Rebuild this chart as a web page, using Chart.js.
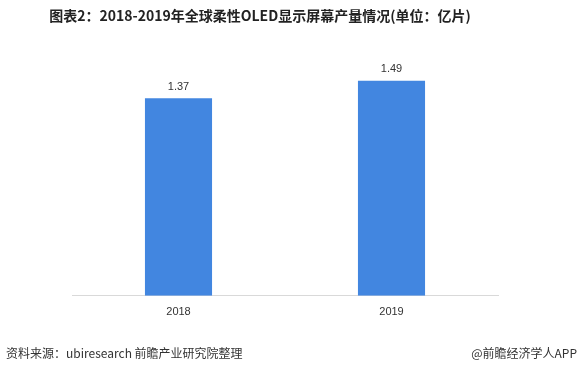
<!DOCTYPE html>
<html><head><meta charset="utf-8">
<script src="https://cdn.jsdelivr.net/npm/chart.js@4"></script>
<style>html,body{margin:0;padding:0;background:#fff;}</style>
</head><body>
<canvas id="c" width="580" height="370"></canvas>
<script>
const categories = ['2018', '2019'];
const production = [1.37, 1.49];
const titleText = '图表2：2018-2019年全球柔性OLED显示屏幕产量情况(单位：亿片)';
const sourceText = '资料来源：ubiresearch 前瞻产业研究院整理';
const brandText = '@前瞻经济学人APP';

const FONT = '"Noto Sans CJK SC","Microsoft YaHei",sans-serif';

const decor = {
  id: 'decor',
  afterDraw(chart) {
    const ctx = chart.ctx;
    ctx.save();
    ctx.fillStyle = '#222';
    ctx.font = 'bold 14px ' + FONT;
    ctx.textAlign = 'center';
    ctx.textBaseline = 'middle';
    ctx.fillText(titleText, 260, 16);
    ctx.font = '12px ' + FONT;
    ctx.fillStyle = '#333';
    ctx.textAlign = 'left';
    ctx.fillText(sourceText, 6, 353);
    ctx.textAlign = 'right';
    ctx.fillText(brandText, 577, 353);
    // value labels
    const meta = chart.getDatasetMeta(0);
    ctx.font = '11px "Liberation Sans",Arial,sans-serif';
    ctx.fillStyle = '#333';
    ctx.textAlign = 'center';
    ctx.textBaseline = 'bottom';
    meta.data.forEach((bar, i) => {
      ctx.fillText(production[i].toFixed(2), bar.x, bar.y - 6);
    });
    ctx.restore();
  }
};

new Chart(document.getElementById('c'), {
  type: 'bar',
  data: {
    labels: categories,
    datasets: [{
      data: production,
      backgroundColor: '#4286e0',
      borderWidth: 0,
      barPercentage: 1,
      categoryPercentage: 0.315
    }]
  },
  options: {
    responsive: false,
    animation: false,
    layout: { padding: { left: 72, right: 82, top: 65, bottom: 49 } },
    plugins: { legend: { display: false }, title: { display: false }, tooltip: { enabled: false } },
    scales: {
      x: {
        grid: { display: false },
        border: { display: true, color: '#d9d9d9', width: 1 },
        ticks: { color: '#333', font: { size: 11, family: '"Liberation Sans",Arial,sans-serif' }, padding: 2 }
      },
      y: {
        display: false,
        min: 0,
        max: 1.6
      }
    }
  },
  plugins: [decor]
});
</script>
</body></html>
